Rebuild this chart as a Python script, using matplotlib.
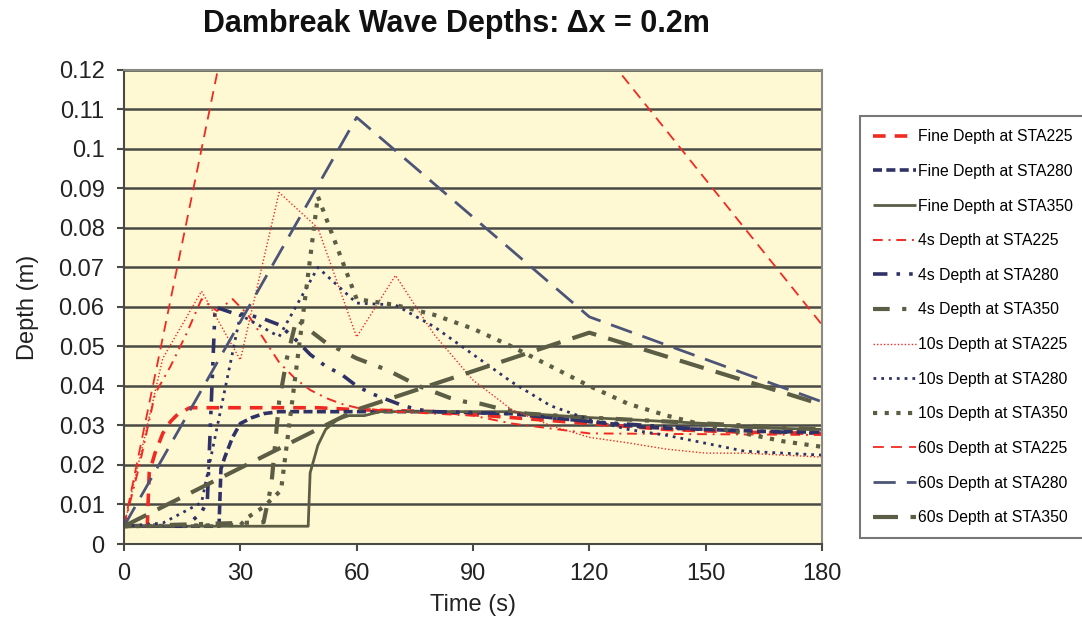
import matplotlib.pyplot as plt
import numpy as np

# ---- data ----
fine225_t = [0, 6, 6.5, 8, 10, 12, 14, 17, 50, 60, 80, 100, 120, 140, 160, 180]
fine225_d = [0.0045, 0.0045, 0.018, 0.023, 0.028, 0.031, 0.033, 0.0345, 0.0345, 0.034, 0.0335, 0.032, 0.0305, 0.029, 0.0283, 0.028]

fine280_t = [0, 24.5, 25, 26, 28, 30, 33, 36, 40, 80, 100, 120, 135, 150, 165, 180]
fine280_d = [0.0045, 0.0045, 0.019, 0.022, 0.027, 0.0305, 0.032, 0.033, 0.0335, 0.0335, 0.033, 0.031, 0.0295, 0.029, 0.0285, 0.0283]

fine350_t = [0, 47.5, 48, 50, 52, 55, 58, 62, 66, 100, 104, 120, 140, 150, 160, 180]
fine350_d = [0.0045, 0.0045, 0.018, 0.025, 0.029, 0.0315, 0.0325, 0.0325, 0.0335, 0.0335, 0.033, 0.032, 0.031, 0.0305, 0.0295, 0.029]

s4_225_t = [0, 4, 8, 12, 16, 20, 24, 28, 32, 36, 40, 44, 48, 52, 56, 60, 70, 90, 100, 120, 180]
s4_225_d = [0.0045, 0.020, 0.038, 0.045, 0.053, 0.062, 0.059, 0.062, 0.058, 0.052, 0.046, 0.042, 0.039, 0.037, 0.0355, 0.0345, 0.0335, 0.0325, 0.0305, 0.028, 0.0276]

s4_280_t = [0, 16, 20, 21.5, 23.5, 28, 32, 36, 40, 44, 48, 52, 56, 60, 64, 68, 72, 76, 80, 100, 120, 150, 180]
s4_280_d = [0.0045, 0.0045, 0.008, 0.011, 0.060, 0.0585, 0.058, 0.057, 0.0555, 0.052, 0.048, 0.045, 0.043, 0.040, 0.038, 0.0365, 0.035, 0.034, 0.0335, 0.033, 0.031, 0.029, 0.028]

s4_350_t = [0, 36, 38, 40, 42, 44.5, 48, 52, 56, 60, 64, 68, 72, 76, 80, 84, 88, 92, 96, 100, 104, 120, 140, 160, 180]
s4_350_d = [0.0045, 0.0055, 0.015, 0.036, 0.047, 0.057, 0.054, 0.051, 0.049, 0.047, 0.0455, 0.044, 0.042, 0.040, 0.0385, 0.037, 0.036, 0.0355, 0.0345, 0.0337, 0.033, 0.032, 0.031, 0.030, 0.029]

s10_225_t = [0, 10, 20, 30, 40, 50, 60, 70, 80, 90, 100, 110, 120, 130, 140, 150, 160, 170, 180]
s10_225_d = [0.0045, 0.047, 0.064, 0.0466, 0.089, 0.080, 0.0524, 0.068, 0.053, 0.0415, 0.034, 0.030, 0.027, 0.0256, 0.024, 0.023, 0.023, 0.0225, 0.022]

s10_280_t = [0, 10, 20, 30, 40, 50, 60, 70, 80, 90, 100, 110, 120, 130, 140, 150, 160, 170, 180]
s10_280_d = [0.0045, 0.0053, 0.0105, 0.058, 0.0525, 0.070, 0.061, 0.0605, 0.055, 0.048, 0.041, 0.035, 0.0315, 0.029, 0.0275, 0.0255, 0.0235, 0.023, 0.0225]

s10_350_t = [0, 30, 32, 36, 40.5, 50, 60, 70, 80, 90, 100, 110, 120, 130, 140, 150, 160, 170, 180]
s10_350_d = [0.0045, 0.0048, 0.0068, 0.0094, 0.0136, 0.088, 0.062, 0.0605, 0.058, 0.0545, 0.050, 0.045, 0.040, 0.0355, 0.0325, 0.030, 0.028, 0.026, 0.0246]

s60_t = [0, 60, 120, 180]
s60_225_d = [0.0045, 0.291, 0.129, 0.0555]
s60_280_d = [0.0045, 0.108, 0.0575, 0.036]
s60_350_d = [0.0045, 0.034, 0.0535, 0.0353]

ytick_labels = ['0', '0.01', '0.02', '0.03', '0.04', '0.05', '0.06', '0.07',
                '0.08', '0.09', '0.1', '0.11', '0.12']

RED = '#f02a22'
NAVY = '#2f3266'
SLATE = '#4c5478'
OLIVE = '#5c5d45'

series = [
    ('Fine Depth at STA225', fine225_t, fine225_d, dict(color=RED, lw=2.6, ls=(0, (3.5, 2.5)))),
    ('Fine Depth at STA280', fine280_t, fine280_d, dict(color=NAVY, lw=2.6, ls=(0, (2.5, 1.2)))),
    ('Fine Depth at STA350', fine350_t, fine350_d, dict(color=OLIVE, lw=2.0, ls='-')),
    ('4s Depth at STA225', s4_225_t, s4_225_d, dict(color=RED, lw=1.4, ls=(0, (5, 3, 1, 3)))),
    ('4s Depth at STA280', s4_280_t, s4_280_d, dict(color=NAVY, lw=2.6, ls=(0, (4, 2.5, 1, 2.5, 1, 2.5)))),
    ('4s Depth at STA350', s4_350_t, s4_350_d, dict(color=OLIVE, lw=3.0, ls=(0, (4, 3, 1, 3)))),
    ('10s Depth at STA225', s10_225_t, s10_225_d, dict(color=RED, lw=1.0, ls=(0, (1, 1.5)))),
    ('10s Depth at STA280', s10_280_t, s10_280_d, dict(color=NAVY, lw=2.0, ls=(0, (1, 1.8)))),
    ('10s Depth at STA350', s10_350_t, s10_350_d, dict(color=OLIVE, lw=3.0, ls=(0, (1, 1.8)))),
    ('60s Depth at STA225', s60_t, s60_225_d, dict(color=RED, lw=1.3, ls=(0, (6, 4)))),
    ('60s Depth at STA280', s60_t, s60_280_d, dict(color=SLATE, lw=2.0, ls=(0, (8, 4)))),
    ('60s Depth at STA350', s60_t, s60_350_d, dict(color=OLIVE, lw=3.0, ls=(0, (6, 3)))),
]

plt.rcParams['font.family'] = ['Liberation Sans', 'DejaVu Sans']

fig = plt.figure(figsize=(10.82, 6.22), dpi=100)
ax = fig.add_axes([0.1146, 0.1254, 0.6451, 0.7621])
ax.set_facecolor('#fff9d3')

for label, t, d, st in series:
    ax.plot(t, d, label=label, solid_capstyle='butt', dash_capstyle='butt', **st)

ax.set_xlim(0, 180)
ax.set_ylim(0, 0.12)
ax.set_xticks(np.arange(0, 181, 30))
ax.set_yticks(np.arange(0, 0.1201, 0.01))
ax.set_yticklabels(ytick_labels)
ax.yaxis.grid(True, color='#4a4a44', lw=1.8)
ax.set_axisbelow(True)
for s in ax.spines.values():
    s.set_color('#8a8a84')
    s.set_linewidth(1.5)
ax.spines['left'].set_color('#4a4a44')
ax.spines['bottom'].set_color('#4a4a44')
ax.tick_params(labelsize=17, length=5, width=1.5, color='#4a4a44', pad=9, labelcolor='#222222')

ax.set_xlabel('Time (s)', fontsize=17, labelpad=6, color='#222222')
ax.set_ylabel('Depth (m)', fontsize=17, labelpad=14, color='#222222')
fig.text(0.4215, 0.962, 'Dambreak Wave Depths: \u0394x = 0.2m', ha='center', va='center',
         fontsize=22, fontweight='bold', color='#111111')

leg = fig.legend(loc='upper left', bbox_to_anchor=(0.7948, 0.8135), bbox_transform=fig.transFigure,
                 fontsize=11.3, frameon=True, fancybox=False, edgecolor='#555555',
                 handlelength=2.7, handletextpad=0.15, labelspacing=1.25, borderpad=0.85,
                 borderaxespad=0)
leg.get_frame().set_linewidth(1.5)

fig.savefig('out.png', dpi=100)
